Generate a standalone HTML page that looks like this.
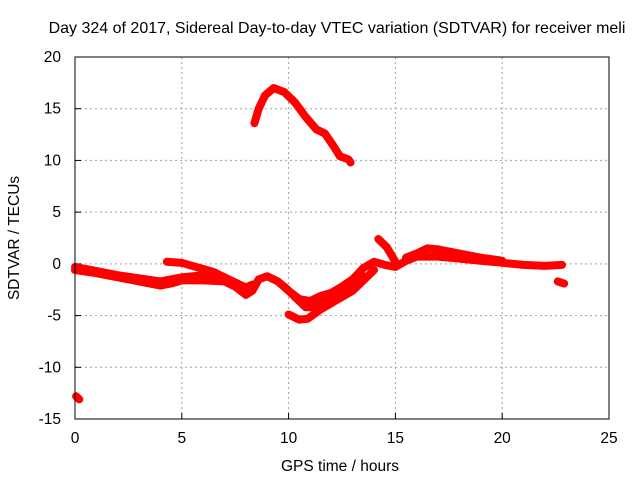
<!DOCTYPE html>
<html><head><meta charset="utf-8"><style>
body{margin:0;background:#fff;}
svg{display:block;font-family:"Liberation Sans",sans-serif;}
</style></head><body>
<svg width="640" height="480" id="c">
<rect width="640" height="480" fill="#fff"/>
<text x="337" y="33" text-anchor="middle" font-size="16">Day 324 of 2017, Sidereal Day-to-day VTEC variation (SDTVAR) for receiver meli</text>
<text x="340" y="471" text-anchor="middle" font-size="15.5">GPS time / hours</text>
<text transform="translate(19,238) rotate(-90)" text-anchor="middle" font-size="15.5">SDTVAR / TECUs</text>
<g id="grid"></g><g id="ticks"></g><g id="marks"></g>
<rect x="75" y="57" width="534" height="362" fill="none" stroke="#000"/>
</svg>
<script>
const xTicks=[0,5,10,15,20,25];
const yTicks=[-15,-10,-5,0,5,10,15,20];
const trackUpper=[[0,-0.3],[1,-0.7],[2,-1.1],[3,-1.4],[4,-1.7],[5,-1.3],[6,-1.1],[7,-1.3]];
const trackUpper2=[[4.3,0.2],[5,0.1],[5.5,-0.2],[6,-0.5],[6.5,-0.8],[7,-1.3],[7.5,-1.8],[8,-2.3],[8.3,-2.0]];
const trackLower=[[0,-0.6],[1,-0.9],[2,-1.3],[3,-1.7],[4,-2.1],[4.5,-1.9],[5,-1.6],[6,-1.6],[7,-1.7],[7.5,-2.2],[8,-3],[8.3,-2.6],[8.6,-1.5],[9,-1.2],[9.5,-1.7],[10,-2.6],[10.5,-3.4],[11,-3.6],[11.5,-3.1],[12,-2.8],[12.5,-2.2],[13,-1.5],[13.5,-0.4],[14,0.2],[14.5,-0.1],[15,-0.3],[15.5,0.3],[16,0.7],[16.5,0.7],[17,0.7],[18,0.5],[19,0.3],[20,0.1],[21,-0.1],[22,-0.2],[22.8,-0.1]];
const trackMid=[[9.8,-2.2],[10.3,-3.2],[10.8,-4.2],[11.2,-4.2],[11.6,-3.6],[12.2,-3],[13,-2.4],[13.5,-1.2]];
const trackDeep=[[10,-4.9],[10.5,-5.4],[10.9,-5.3],[11.5,-4.4],[12,-3.8],[12.5,-3.2],[13,-2.6],[13.5,-1.6],[14,-0.6]];
const trackSpike=[[14.2,2.4],[14.6,1.6],[15,0.2]];
const trackHigh=[[15.5,0.6],[16,1.0],[16.5,1.5],[17,1.4],[18,1.0],[19,0.6],[20,0.3]];
const trackArc=[[8.4,13.6],[8.6,15],[8.9,16.3],[9.3,17],[9.8,16.6],[10.3,15.6],[10.8,14.2],[11.3,13],[11.7,12.6],[12.1,11.4],[12.4,10.4],[12.8,10.1],[12.9,9.8]];
const trackIso=[[22.6,-1.7],[22.9,-1.9]];
const trackOutlier=[[0.05,-12.8],[0.2,-13.1]];
const tracks=[trackUpper,trackUpper2,trackLower,trackMid,trackDeep,trackSpike,trackHigh,trackArc,trackIso,trackOutlier];
const X=v=>75+v*534/25, Y=v=>419-(v+15)*362/35;
const NS="http://www.w3.org/2000/svg";
function mk(t,a,p){const e=document.createElementNS(NS,t);for(const k in a)e.setAttribute(k,a[k]);p.appendChild(e);return e;}
const grid=document.getElementById('grid'),ticks=document.getElementById('ticks'),marks=document.getElementById('marks');
xTicks.forEach(t=>{
 if(t>0&&t<25){const g=mk('line',{x1:X(t),x2:X(t),y1:57,y2:419,stroke:'#a0a0a0','stroke-dasharray':'2,3'},grid);
 
 }
 mk('line',{x1:X(t),x2:X(t),y1:419,y2:413,stroke:'#000'},ticks);
 const l=mk('text',{x:X(t),y:443,'text-anchor':'middle','font-size':'15.5'},ticks);l.textContent=t;
 
 
});
yTicks.forEach(t=>{
 if(t>-15&&t<20){const g=mk('line',{x1:75,x2:609,y1:Y(t),y2:Y(t),stroke:'#a0a0a0','stroke-dasharray':'2,3'},grid);
 
 }
 mk('line',{x1:75,x2:81,y1:Y(t),y2:Y(t),stroke:'#000'},ticks);
 const l=mk('text',{x:61,y:Y(t)+5,'text-anchor':'end','font-size':'15.5'},ticks);l.textContent=t;
 
 
});
tracks.forEach(tr=>{
 const p=mk('polyline',{points:tr.map(d=>X(d[0])+','+Y(d[1])).join(' '),fill:'none',stroke:'#f00','stroke-width':'8','stroke-linejoin':'round','stroke-linecap':'round'},marks);
 
 
});
</script>
</body></html>
